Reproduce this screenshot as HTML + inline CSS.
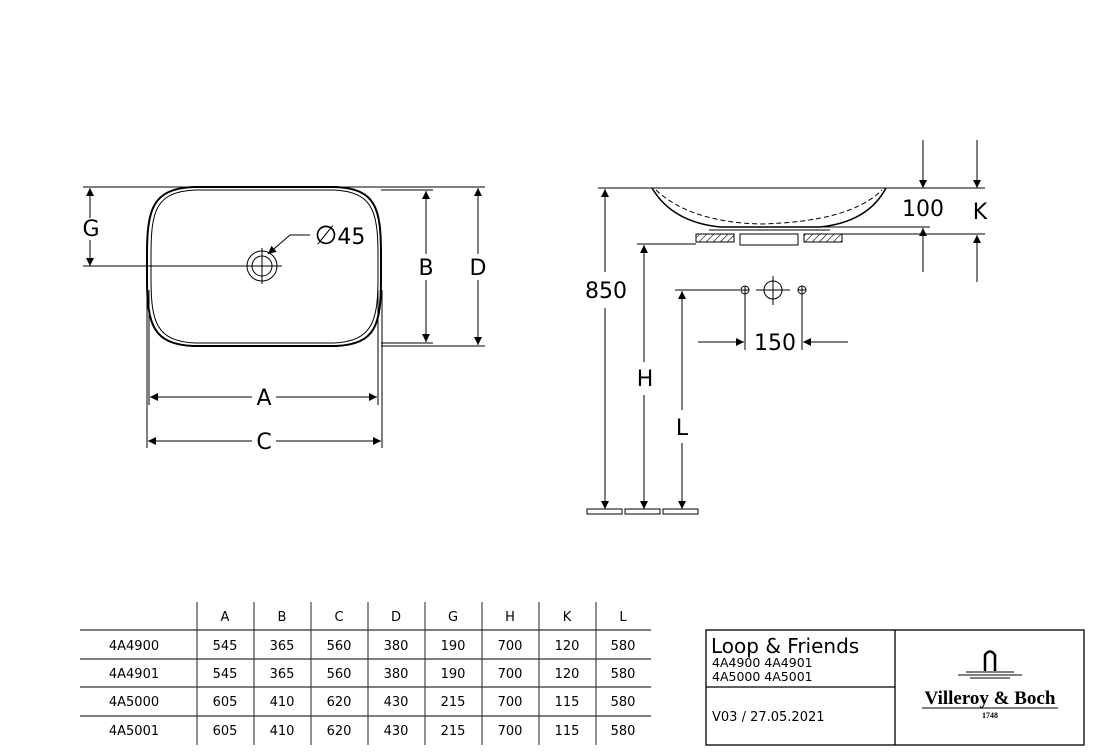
<!DOCTYPE html>
<html><head><meta charset="utf-8"><style>
body{margin:0;background:#fff;}
svg{display:block;font-family:"DejaVu Sans","Liberation Sans",sans-serif;}
</style></head><body>
<svg width="1094" height="755" viewBox="0 0 1094 755" xmlns="http://www.w3.org/2000/svg">
<defs>
<marker id="a" viewBox="0 0 10 10" refX="10" refY="5" markerWidth="14" markerHeight="8" markerUnits="userSpaceOnUse" orient="auto-start-reverse"><path d="M0,0L10,5L0,10z" fill="#000"/></marker>
<pattern id="h" width="5" height="5" patternUnits="userSpaceOnUse" patternTransform="rotate(45)"><line x1="0" y1="0" x2="0" y2="5" stroke="#000" stroke-width="1.2"/></pattern>
</defs>
<g stroke="#000" stroke-width="1" fill="none">
<line x1="83" y1="187" x2="485" y2="187"/>
<line x1="83" y1="266" x2="282" y2="266"/>
<path d="M193,187 L336,187 C376,189 381,208 381,255 L381,278 C381,325 376,344 336,346 L193,346 C153,344 147,325 147,278 L147,255 C147,208 153,189 193,187 Z" stroke-width="2"/>
<path d="M195,190 L334,190 C372,192 378,210 378,255 L378,278 C378,322 372,341 334,343 L195,343 C156,341 151,322 151,278 L151,255 C151,210 156,192 195,190 Z"/>
<line x1="90" y1="188" x2="90" y2="218" marker-start="url(#a)"/>
<line x1="90" y1="240" x2="90" y2="266" marker-end="url(#a)"/>
<circle cx="262" cy="266" r="15"/><circle cx="262" cy="266" r="10"/>
<line x1="262" y1="248" x2="262" y2="284"/><line x1="252" y1="266" x2="272" y2="266"/>
<polyline points="310,235 290,235 268,254" marker-end="url(#a)"/>
<line x1="381" y1="190" x2="433" y2="190"/><line x1="381" y1="343" x2="433" y2="343"/>
<line x1="381" y1="346" x2="485" y2="346"/>
<line x1="426" y1="191" x2="426" y2="254" marker-start="url(#a)"/>
<line x1="426" y1="280" x2="426" y2="342" marker-end="url(#a)"/>
<line x1="478" y1="188" x2="478" y2="254" marker-start="url(#a)"/>
<line x1="478" y1="280" x2="478" y2="345" marker-end="url(#a)"/>
<line x1="149" y1="290" x2="149" y2="405"/><line x1="378" y1="290" x2="378" y2="405"/>
<line x1="147" y1="290" x2="147" y2="448"/><line x1="382" y1="290" x2="382" y2="448"/>
<line x1="150" y1="397" x2="252" y2="397" marker-start="url(#a)"/>
<line x1="276" y1="397" x2="377" y2="397" marker-end="url(#a)"/>
<line x1="148" y1="441" x2="252" y2="441" marker-start="url(#a)"/>
<line x1="276" y1="441" x2="381" y2="441" marker-end="url(#a)"/>
<line x1="598" y1="188" x2="985" y2="188"/>
<path d="M652,188 Q672,222 720,227 L820,227 Q868,222 886,188" stroke-width="1.5"/>
<path d="M656,190 Q690,222 760,224 Q850,222 882,190" stroke-dasharray="5,3"/>
<line x1="820" y1="227" x2="930" y2="227"/>
<line x1="709" y1="230" x2="830" y2="230"/>
<rect x="696" y="234" width="38" height="8" fill="url(#h)"/>
<rect x="804" y="234" width="38" height="8" fill="url(#h)"/>
<rect x="740" y="234" width="58" height="11"/>
<line x1="842" y1="234" x2="985" y2="234"/>
<line x1="637" y1="244" x2="696" y2="244"/>
<line x1="923" y1="140" x2="923" y2="188" marker-end="url(#a)"/>
<line x1="923" y1="272" x2="923" y2="228" marker-end="url(#a)"/>
<line x1="977" y1="140" x2="977" y2="188" marker-end="url(#a)"/>
<line x1="977" y1="282" x2="977" y2="235" marker-end="url(#a)"/>
<line x1="605" y1="189" x2="605" y2="272" marker-start="url(#a)"/>
<line x1="605" y1="308" x2="605" y2="509" marker-end="url(#a)"/>
<line x1="644" y1="245" x2="644" y2="362" marker-start="url(#a)"/>
<line x1="644" y1="395" x2="644" y2="509" marker-end="url(#a)"/>
<line x1="682" y1="291" x2="682" y2="410" marker-start="url(#a)"/>
<line x1="682" y1="443" x2="682" y2="509" marker-end="url(#a)"/>
<line x1="675" y1="290" x2="740" y2="290"/>
<circle cx="745" cy="290" r="4"/><line x1="741" y1="290" x2="749" y2="290"/><line x1="745" y1="286" x2="745" y2="294"/>
<circle cx="802" cy="290" r="4"/><line x1="798" y1="290" x2="806" y2="290"/><line x1="802" y1="286" x2="802" y2="294"/>
<circle cx="773" cy="290" r="9"/><line x1="756" y1="290" x2="790" y2="290"/><line x1="773" y1="276" x2="773" y2="305"/>
<line x1="745" y1="294" x2="745" y2="350"/><line x1="802" y1="294" x2="802" y2="350"/>
<line x1="698" y1="342" x2="744" y2="342" marker-end="url(#a)"/>
<line x1="848" y1="342" x2="803" y2="342" marker-end="url(#a)"/>
<rect x="587" y="509" width="35" height="5"/><rect x="625" y="509" width="35" height="5"/><rect x="663" y="509" width="35" height="5"/>
<g stroke="#555" stroke-width="1.3">
<line x1="197" y1="602" x2="197" y2="745"/><line x1="254" y1="602" x2="254" y2="745"/><line x1="311" y1="602" x2="311" y2="745"/><line x1="368" y1="602" x2="368" y2="745"/><line x1="425" y1="602" x2="425" y2="745"/><line x1="482" y1="602" x2="482" y2="745"/><line x1="539" y1="602" x2="539" y2="745"/><line x1="596" y1="602" x2="596" y2="745"/>
</g>
<g stroke="#333" stroke-width="1.3">
<line x1="80" y1="630" x2="651" y2="630"/><line x1="80" y1="659" x2="651" y2="659"/><line x1="80" y1="687" x2="651" y2="687"/><line x1="80" y1="716" x2="651" y2="716"/>
</g>
<rect x="706" y="630" width="378" height="115" stroke-width="1.3"/>
<line x1="895" y1="630" x2="895" y2="745" stroke-width="1.3"/>
<line x1="706" y1="687" x2="895" y2="687" stroke-width="1.3"/>
<path d="M985,671 L985,655 Q990,648 995,655 L995,671" stroke-width="2.5"/>
<line x1="966" y1="672" x2="1014" y2="672"/><line x1="958" y1="675" x2="1022" y2="675"/><line x1="970" y1="678" x2="1010" y2="678"/>
<line x1="922" y1="708" x2="1058" y2="708"/>
</g>
<g font-size="22" fill="#000" text-anchor="middle">
<text x="91" y="236">G</text>
<text x="340" y="244"><tspan font-size="26">∅</tspan>45</text>
<text x="426" y="275">B</text>
<text x="478" y="275">D</text>
<text x="264" y="405">A</text>
<text x="264" y="449">C</text>
<text x="923" y="216">100</text>
<text x="980" y="219">K</text>
<text x="606" y="298">850</text>
<text x="645" y="386">H</text>
<text x="682" y="435">L</text>
<text x="775" y="350">150</text>
</g>
<g font-size="13" fill="#000" text-anchor="middle">
<text x="225" y="621">A</text><text x="282" y="621">B</text><text x="339" y="621">C</text><text x="396" y="621">D</text><text x="453" y="621">G</text><text x="510" y="621">H</text><text x="567" y="621">K</text><text x="623" y="621">L</text>
<text x="134" y="650">4A4900</text><text x="225" y="650">545</text><text x="282" y="650">365</text><text x="339" y="650">560</text><text x="396" y="650">380</text><text x="453" y="650">190</text><text x="510" y="650">700</text><text x="567" y="650">120</text><text x="623" y="650">580</text>
<text x="134" y="678">4A4901</text><text x="225" y="678">545</text><text x="282" y="678">365</text><text x="339" y="678">560</text><text x="396" y="678">380</text><text x="453" y="678">190</text><text x="510" y="678">700</text><text x="567" y="678">120</text><text x="623" y="678">580</text>
<text x="134" y="706">4A5000</text><text x="225" y="706">605</text><text x="282" y="706">410</text><text x="339" y="706">620</text><text x="396" y="706">430</text><text x="453" y="706">215</text><text x="510" y="706">700</text><text x="567" y="706">115</text><text x="623" y="706">580</text>
<text x="134" y="735">4A5001</text><text x="225" y="735">605</text><text x="282" y="735">410</text><text x="339" y="735">620</text><text x="396" y="735">430</text><text x="453" y="735">215</text><text x="510" y="735">700</text><text x="567" y="735">115</text><text x="623" y="735">580</text>
</g>
<g fill="#000">
<text x="711" y="653" font-size="20">Loop &amp; Friends</text>
<text x="712" y="667" font-size="12.5">4A4900 4A4901</text>
<text x="712" y="681" font-size="12.5">4A5000 4A5001</text>
<text x="712" y="721" font-size="13">V03 / 27.05.2021</text>
<text x="990" y="704" font-size="19" font-weight="bold" text-anchor="middle" font-family="Liberation Serif,serif">Villeroy &amp; Boch</text>
<text x="990" y="718" font-size="8" font-weight="bold" text-anchor="middle" font-family="Liberation Serif,serif">1748</text>
</g>
</svg>
</body></html>
